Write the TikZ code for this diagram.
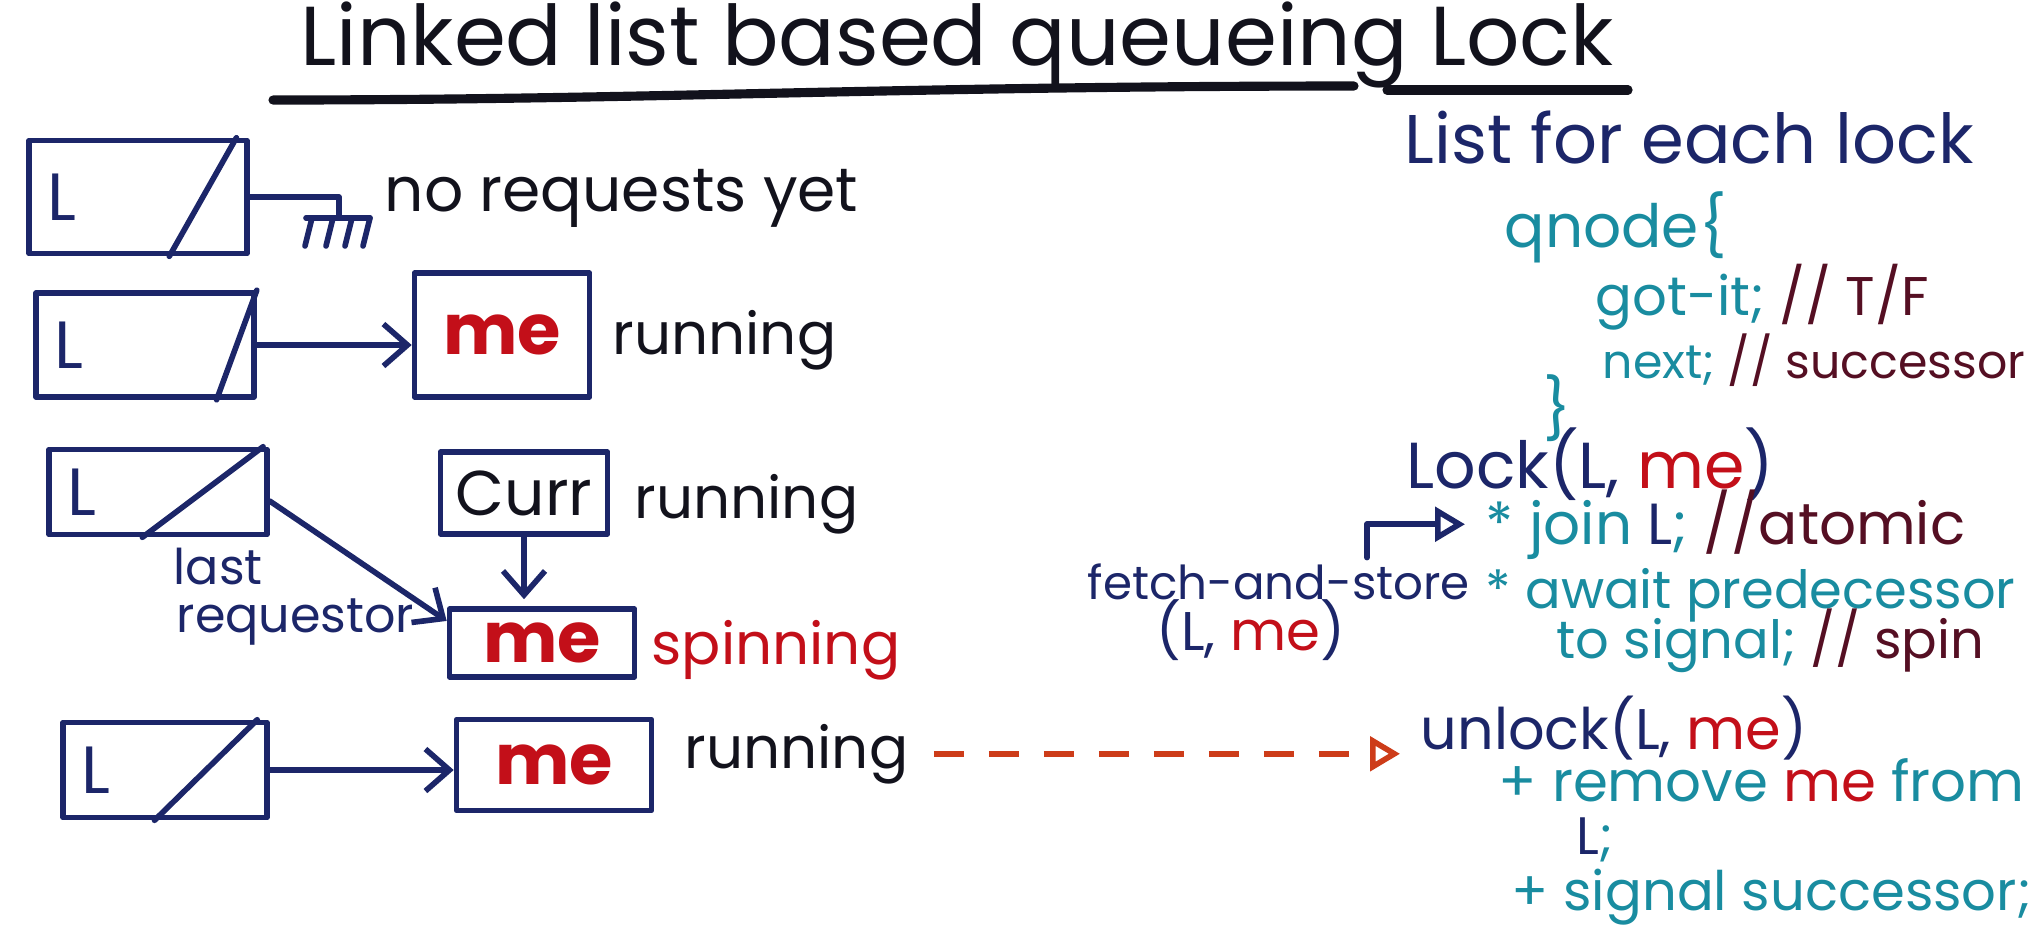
\documentclass[tikz,border=0pt]{standalone}
\usepackage{fontspec}
\setmainfont{Poppins}
\usepackage{tikz}
\usetikzlibrary{calc, arrows.meta, positioning}
\definecolor{ink}{RGB}{18,18,28}
\definecolor{navy}{RGB}{28,38,105}
\definecolor{qteal}{RGB}{25,140,160}
\definecolor{mered}{RGB}{195,15,25}
\definecolor{maroon}{RGB}{85,15,35}
\definecolor{dashorange}{RGB}{205,60,25}
\newcommand\lockslash[3]{\draw[pen] ($(#1.south west)!#2!(#1.south east)$) -- ($(#1.north west)!#3!(#1.north east)$);}

\begin{document}
\begin{tikzpicture}[y=-1cm,
  >={Straight Barb[length=2.4mm,width=4.2mm]},
  pen/.style={draw=navy, line width=1.6pt, line cap=round, line join=round},
  lbox/.style={pen, text=navy, align=left, inner xsep=0.18cm, inner ysep=0pt, font=\fontsize{19}{20}\selectfont},
  mbox/.style={pen, text=mered, inner sep=0pt, font=\fontsize{20}{22}\selectfont\bfseries},
  hand/.style={anchor=base west, inner sep=0pt, text=ink, font=\fontsize{16.5}{19}\selectfont},
  code/.style={anchor=base west, inner sep=0pt, text=qteal, font=\fontsize{15}{18}\selectfont},
  link/.style={pen, ->},
  openhead/.style={-{Triangle[open, length=3mm, width=3.4mm, line width=1.6pt]}}
]
\useasboundingbox (0,0) rectangle (20.42,9.40);

% title
\node[hand, font=\fontsize{23.8}{26}\selectfont] (title) at (3.00,0.65) {Linked list based queueing Lock};
\draw[ink, line width=2.6pt, line cap=round] (2.73,1.00) .. controls (6.50,1.00) and (9.00,0.86) .. (13.54,0.86);
\draw[ink, line width=2.6pt, line cap=round] (13.87,0.90) -- (16.28,0.90);

% the four states of the list
\node[lbox, text width=1.82cm, minimum height=1.13cm] (L1) at (1.38,1.97) {L};
\node[lbox, text width=1.82cm, minimum height=1.04cm] (L2) at (1.45,3.45) {L};
\node[lbox, text width=1.82cm, minimum height=0.85cm] (L3) at (1.58,4.92) {L};
\node[lbox, text width=1.68cm, minimum height=0.95cm] (L4) at (1.65,7.70) {L};
\lockslash{L1}{0.64}{0.94}
\lockslash{L2}{0.82}{1.00}
\lockslash{L3}{0.43}{0.97}
\lockslash{L4}{0.45}{0.94}

\node[mbox, minimum width=1.75cm, minimum height=1.24cm] (me2) at (5.02,3.35) {me};
\node[mbox, text=ink, font=\fontsize{18}{20}\selectfont, minimum width=1.67cm, minimum height=0.82cm] (cur) at (5.24,4.93) {Curr};
\node[mbox, minimum width=1.85cm, minimum height=0.68cm] (me3) at (5.42,6.43) {me};
\node[mbox, minimum width=1.95cm, minimum height=0.91cm] (me4) at (5.54,7.65) {me};

\node[hand, font=\fontsize{17.5}{20}\selectfont] (norq) at (3.84,2.11) {no requests yet};
\node[hand] (run2) at (6.12,3.54) {running};
\node[hand] (run3) at (6.34,5.18) {running};
\node[hand, text=mered] (spin) at (6.51,6.64) {spinning};
\node[hand] (run4) at (6.84,7.68) {running};
\node[hand, text=navy, font=\fontsize{14}{16}\selectfont] (lastw) at (1.73,5.84) {last};
\node[hand, text=navy, font=\fontsize{14}{16}\selectfont] (reqw) at (1.76,6.32) {requestor};

% pointers
\coordinate (gnd) at (3.39,2.18);
\draw[pen] (L1.east) -| (gnd);
\draw[pen] (3.06,2.18) -- (3.70,2.18);
\foreach \x in {3.12,3.33,3.52,3.70}
  \draw[pen] (\x,2.18) -- ++(-0.07,0.28);
\draw[link] (L2.east) -- (L2.east -| me2.west);
\draw[link] ($(L3.north east)!0.6!(L3.south east)$) -- ($(me3.north west)!0.2!(me3.south west)$);
\draw[link, shorten >=0.07cm] (cur.south) -- (cur.south |- me3.north);
\draw[link] (L4.east) -- (L4.east -| me4.west);

% qnode and the lock / unlock code
\node[hand, text=navy, font=\fontsize{19.6}{22}\selectfont] (listhd) at (14.04,1.63) {List for each lock};
\node[code, font=\fontsize{17}{20}\selectfont] (qnode) at (15.04,2.47) {qnode\{};
\node[code, font=\fontsize{15.5}{18}\selectfont] (gotit) at (15.95,3.15) {got-it; \textcolor{maroon}{// T/F}};
\node[code, font=\fontsize{13.5}{18}\selectfont] (nextf) at (16.02,3.78) {next; \textcolor{maroon}{// successor}};
\node[code, font=\fontsize{17}{20}\selectfont] (qclose) at (15.43,4.30) {\}};
\node[hand, text=navy, font=\fontsize{18.5}{20}\selectfont] (lockfn) at (14.06,4.88) {Lock(L, \textcolor{mered}{me})};
\node[code, font=\fontsize{16.5}{19}\selectfont] (join) at (14.85,5.44) {* join \textcolor{navy}{L}; \textcolor{maroon}{//atomic}};
\node[code] (await) at (14.85,6.08) {* await predecessor};
\node[code] (tosig) at (15.56,6.58) {to signal; \textcolor{maroon}{// spin}};
\node[hand, text=navy, font=\fontsize{13.3}{16}\selectfont] (fas) at (10.87,5.99) {fetch-and-store};
\node[hand, text=navy, font=\fontsize{15.5}{18}\selectfont] (fasarg) at (11.56,6.50) {(L, \textcolor{mered}{me})};
\node[hand, text=navy, font=\fontsize{16.3}{20}\selectfont] (unl) at (14.20,7.49) {unlock(L, \textcolor{mered}{me})};
\node[code, font=\fontsize{16}{19}\selectfont] (remove) at (14.98,8.01) {+ remove \textcolor{mered}{me} from};
\node[code, font=\fontsize{15}{18}\selectfont] (rmL) at (15.76,8.54) {\textcolor{navy}{L};};
\node[code, font=\fontsize{15.5}{19}\selectfont] (sigsucc) at (15.11,9.10) {+ signal successor;};

\coordinate (fasup) at ([xshift=2.80cm, yshift=0.05cm]fas.north west);
\draw[pen, openhead, shorten >=0.2cm] (fasup) |- (join.west);
\draw[draw=dashorange, line width=1.8pt, dash pattern=on 0.30cm off 0.25cm, openhead,
  shorten <=0.25cm, shorten >=0.2cm] (run4.east) -- (run4.east -| unl.west);
\end{tikzpicture}
\end{document}
